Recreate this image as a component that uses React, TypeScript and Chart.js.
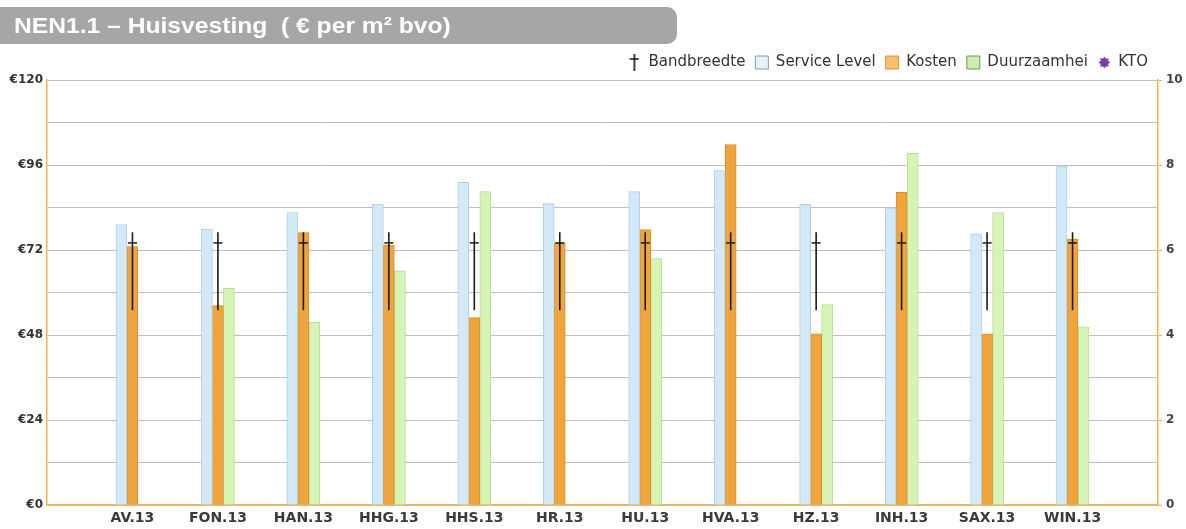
import React, { useEffect, useRef } from 'react';
import { Chart, registerables } from 'chart.js';

Chart.register(...registerables);

// Institutions compared (2013)
const categories = ['AV.13', 'FON.13', 'HAN.13', 'HHG.13', 'HHS.13', 'HR.13', 'HU.13', 'HVA.13', 'HZ.13', 'INH.13', 'SAX.13', 'WIN.13'];

// Housing cost indicators, € per m² bvo
const serviceLevel = [79.2, 77.9, 82.6, 85.0, 91.1, 85.1, 88.5, 94.4, 84.9, 83.9, 76.6, 95.7];
const kosten = [73.0, 56.3, 76.9, 73.4, 52.9, 73.9, 77.8, 101.8, 48.3, 88.3, 48.3, 75.1];
const duurzaamheid = [null, 61.2, 51.6, 66.1, 88.5, null, 69.6, null, 56.6, 99.3, 82.6, 50.3];

// Benchmark band (low, high) and its reference mark
const bandLow = [55, 55, 55, 55, 55, 55, 55, 55, 55, 55, 55, 55];
const bandHigh = [77, 77, 77, 77, 77, 77, 77, 77, 77, 77, 77, 77];
const bandMid = [74, 74, 74, 74, 74, 74, 74, 74, 74, 74, 74, 74];

// Customer satisfaction score (right axis), no scores reported
const kto = [null, null, null, null, null, null, null, null, null, null, null, null];

const euroTicks = [0, 24, 48, 72, 96, 120];
const ktoTicks = [0, 2, 4, 6, 8, 10];

const ORANGE_AXIS = '#f2b54e';

// one empty slot on each side of the category axis
const padded = <T,>(arr: T[]): (T | null)[] => [null, ...arr, null];

function makeBandIcon(): HTMLCanvasElement {
  const c = document.createElement('canvas');
  c.width = 10;
  c.height = 17;
  const g = c.getContext('2d')!;
  g.strokeStyle = '#111';
  g.lineWidth = 1.6;
  g.beginPath();
  g.moveTo(5, 0);
  g.lineTo(5, 17);
  g.moveTo(0.5, 5);
  g.lineTo(9.5, 5);
  g.stroke();
  return c;
}

function makeStarIcon(): HTMLCanvasElement {
  const c = document.createElement('canvas');
  c.width = 13;
  c.height = 13;
  const g = c.getContext('2d')!;
  g.fillStyle = '#7a3da6';
  g.beginPath();
  const spikes = 8;
  for (let i = 0; i < spikes * 2; i++) {
    const r = i % 2 === 0 ? 6 : 4;
    const a = (Math.PI * i) / spikes - Math.PI / 2;
    const px = 6.5 + r * Math.cos(a);
    const py = 6.5 + r * Math.sin(a);
    if (i === 0) g.moveTo(px, py);
    else g.lineTo(px, py);
  }
  g.closePath();
  g.fill();
  return c;
}

function BenchmarkChart() {
  const canvasRef = useRef<HTMLCanvasElement | null>(null);

  useEffect(() => {
    const canvas = canvasRef.current;
    if (!canvas) return;
    const bandIcon = makeBandIcon();
    const starIcon = makeStarIcon();

    const chart = new Chart(canvas, {
      type: 'bar',
      data: {
        labels: ['', ...categories, ''],
        datasets: [
          {
            type: 'bar',
            label: 'Bandbreedte',
            data: padded(bandLow.map((lo, i) => [lo, bandHigh[i]])) as any,
            backgroundColor: '#1a1a1a',
            borderWidth: 0,
            grouped: false,
            maxBarThickness: 1.6,
            yAxisID: 'y',
          } as any,
          {
            type: 'line',
            label: 'Bandbreedte-referentie',
            data: padded(bandMid),
            showLine: false,
            pointStyle: 'line',
            pointRadius: 4.5,
            pointBorderWidth: 1.5,
            pointBorderColor: '#1a1a1a',
            pointBackgroundColor: '#1a1a1a',
            yAxisID: 'y',
          },
          {
            type: 'bar',
            label: 'Service Level',
            data: padded(serviceLevel),
            backgroundColor: '#d3e9f7',
            borderColor: '#acd0e8',
            borderWidth: 1,
            barThickness: 11,
            yAxisID: 'y',
          },
          {
            type: 'bar',
            label: 'Kosten',
            data: padded(kosten),
            backgroundColor: '#f0a53c',
            borderColor: '#d98f2c',
            borderWidth: 1,
            barThickness: 11,
            yAxisID: 'y',
          },
          {
            type: 'bar',
            label: 'Duurzaamhei',
            data: padded(duurzaamheid),
            backgroundColor: '#d5f4b6',
            borderColor: '#b6e090',
            borderWidth: 1,
            barThickness: 11,
            yAxisID: 'y',
          },
          {
            type: 'line',
            label: 'KTO',
            data: padded(kto),
            showLine: false,
            pointStyle: starIcon as any,
            yAxisID: 'y1',
          },
        ],
      },
      options: {
        responsive: false,
        animation: false,
        devicePixelRatio: 1,
        events: [],
        layout: { padding: { top: 45, left: 0, right: 0, bottom: 0 } },
        plugins: {
          tooltip: { enabled: false },
          title: { display: false },
          legend: {
            position: 'top',
            align: 'end',
            fullSize: false,
            labels: {
              usePointStyle: true,
              boxWidth: 13,
              boxHeight: 13,
              padding: 10,
              color: '#333',
              font: { family: 'DejaVu Sans', size: 15 },
              generateLabels: () => [
                { text: 'Bandbreedte', pointStyle: bandIcon as any, fillStyle: '#111', strokeStyle: '#111', lineWidth: 0, hidden: false, datasetIndex: 0, fontColor: '#333' },
                { text: 'Service Level', pointStyle: 'rect', fillStyle: '#e4f2fb', strokeStyle: '#7c9cbc', lineWidth: 1, hidden: false, datasetIndex: 2, fontColor: '#333' },
                { text: 'Kosten', pointStyle: 'rect', fillStyle: '#f7c070', strokeStyle: '#d99636', lineWidth: 1, hidden: false, datasetIndex: 3, fontColor: '#333' },
                { text: 'Duurzaamhei', pointStyle: 'rect', fillStyle: '#cdecb4', strokeStyle: '#6f9c4a', lineWidth: 1, hidden: false, datasetIndex: 4, fontColor: '#333' },
                { text: 'KTO', pointStyle: starIcon as any, fillStyle: '#7a3da6', strokeStyle: '#7a3da6', lineWidth: 0, hidden: false, datasetIndex: 5, fontColor: '#333' },
              ],
            },
          },
        },
        scales: {
          x: {
            type: 'category',
            offset: false,
            grid: { display: false, drawTicks: false },
            border: { color: ORANGE_AXIS, width: 1.5 },
            ticks: {
              autoSkip: false,
              maxRotation: 0,
              padding: 5,
              color: '#3a3a3a',
              font: { family: 'DejaVu Sans', weight: 'bold', size: 14 },
            },
            afterFit: (s: any) => {
              s.height = 24;
            },
          },
          y: {
            position: 'left',
            min: 0,
            max: 120,
            ticks: {
              stepSize: 12,
              padding: 4,
              color: '#333',
              font: { family: 'DejaVu Sans', weight: 'bold', size: 12 },
              callback: (v: any) => (euroTicks.includes(Number(v)) ? '€' + v : ''),
            },
            grid: { color: '#bfbfbf', drawTicks: false },
            border: { color: ORANGE_AXIS, width: 1.5 },
            afterFit: (s: any) => {
              s.width = 47;
            },
          },
          y1: {
            position: 'right',
            min: 0,
            max: 10,
            ticks: {
              stepSize: 1,
              padding: 4,
              color: '#444',
              font: { family: 'DejaVu Sans', weight: 'bold', size: 12 },
              callback: (v: any) => (ktoTicks.includes(Number(v)) ? String(v) : ''),
            },
            grid: {
              drawOnChartArea: false,
              tickLength: 4,
              tickColor: (ctx: any) => (ktoTicks.includes(ctx.tick?.value) ? ORANGE_AXIS : 'rgba(0,0,0,0)'),
            },
            border: { color: ORANGE_AXIS, width: 1.5 },
            afterFit: (s: any) => {
              s.width = 28;
            },
          },
        },
      } as any,
    });

    return () => chart.destroy();
  }, []);

  return <canvas ref={canvasRef} width={1186} height={529} style={{ position: 'absolute', left: 0, top: 0 }} />;
}

export default function App() {
  return (
    <div style={{ position: 'absolute', left: 0, top: 0, width: 1186, height: 529, background: '#fff', overflow: 'hidden' }}>
      <BenchmarkChart />
      <div
        style={{
          position: 'absolute',
          left: 0,
          top: 7,
          width: 677,
          height: 37,
          boxSizing: 'border-box',
          paddingLeft: 14,
          background: '#a6a6a6',
          borderRadius: '0 10px 10px 0',
          color: '#fff',
          fontFamily: '"Liberation Sans", Arial, sans-serif',
          fontWeight: 'bold',
          fontSize: 22,
          lineHeight: '37px',
          whiteSpace: 'pre',
        }}
      >
        <span style={{ display: 'inline-block', transform: 'scaleX(1.12)', transformOrigin: 'left center' }}>
          NEN1.1 – Huisvesting  ( € per m² bvo)
        </span>
      </div>
    </div>
  );
}
